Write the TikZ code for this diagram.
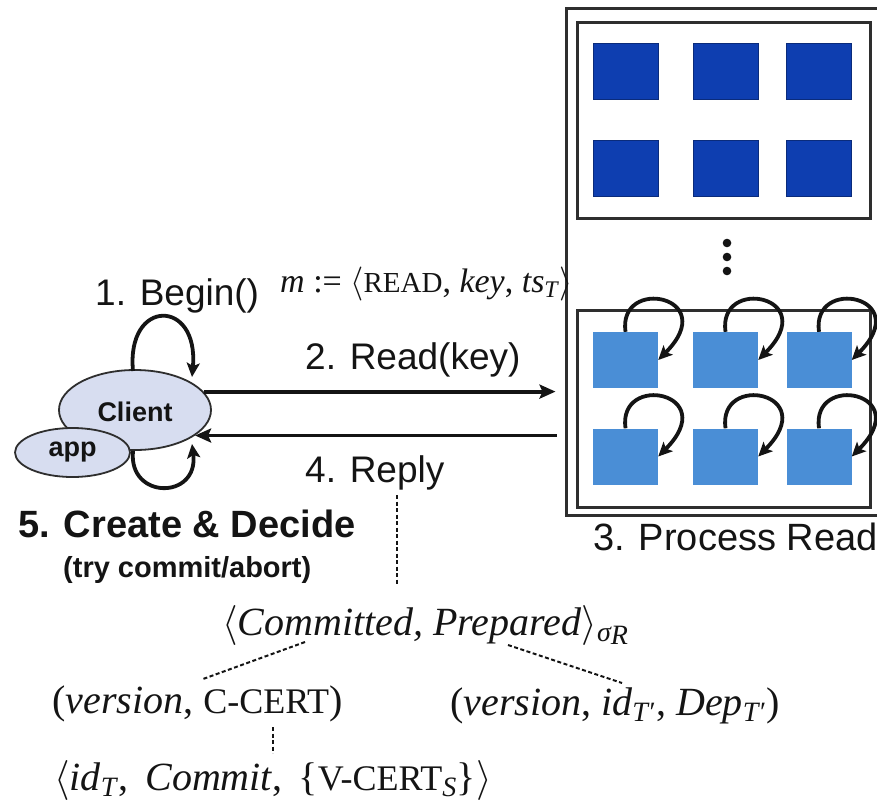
\documentclass[tikz,border=0pt]{standalone}
\usepackage{fix-cm}
\usepackage{fontspec}
\setmainfont{Liberation Serif}
\newfontfamily\arial{Liberation Sans}
\usetikzlibrary{arrows.meta,shapes.geometric}

\definecolor{ink}{HTML}{141414}
\definecolor{frame}{HTML}{2E2E2E}
\definecolor{shard}{HTML}{0E3EB0}
\definecolor{replica}{HTML}{4A8ED6}
\definecolor{bubble}{HTML}{D7DDF0}

\newcommand{\fsz}[1]{\fontsize{#1}{#1}\selectfont}
% fake small capitals at two sizes
\newcommand{\scS}[1]{{\fsz{29}#1}}
\newcommand{\scL}[1]{{\fsz{36}#1}}

\begin{document}
\begin{tikzpicture}[x=1pt,y=-1pt,
  lbl/.style={inner sep=0pt, text=ink, font=\arial\fsz{37}},
  formula/.style={inner sep=0pt, text=ink, font=\fsz{40}},
  bubblenode/.style={ellipse, draw=frame, fill=bubble, line width=1.8pt, inner sep=0pt, text=ink},
  boxframe/.style={rectangle, draw=frame, line width=3pt, inner sep=0pt},
  darksq/.style={rectangle, fill=shard, draw=shard!70!black, line width=0.8pt, minimum width=65pt, minimum height=56pt, inner sep=0pt},
  lightsq/.style={rectangle, fill=replica, minimum width=65pt, minimum height=56pt, inner sep=0pt},
  flow/.style={draw=ink, line width=3.8pt, -{Stealth[length=16pt,width=14pt,inset=3pt]}},
  selfloop/.style={draw=ink, line width=3.8pt, -{Stealth[length=14pt,width=13pt,inset=3pt]}},
  tie/.style={draw=ink, line width=2pt, dash pattern=on 4pt off 2.5pt},
]
\useasboundingbox (0,0) rectangle (877,803);
\fill[white] (0,0) rectangle (877,803);

% ---------- server side ----------
\node[boxframe, minimum width=324pt, minimum height=507pt] (cluster) at (728,261.5) {};
\node[boxframe, minimum width=293pt, minimum height=196pt] (upper) at (723.5,120) {};
\node[boxframe, minimum width=293pt, minimum height=197pt] (lower) at (723.5,408.5) {};

\foreach \c/\x in {1/625.5,2/725.5,3/819}{
  \node[darksq] (d1\c) at (\x,71) {};
  \node[darksq] (d2\c) at (\x,168.5) {};
  \node[lightsq] (r1\c) at (\x,360) {};
  \node[lightsq] (r2\c) at (\x,456.5) {};
  \draw[selfloop] (r1\c.north) .. controls +(-8,-56) and +(64,-64) .. (r1\c.east);
  \draw[selfloop] (r2\c.north) .. controls +(-8,-56) and +(64,-64) .. (r2\c.east);
}

\foreach \y in {243,257,271}
  \fill[ink] (727,\y) circle (4.3pt);

\node[lbl, anchor=base west, font=\arial\fsz{38}] (process) at (593,550) {3. Process Read};

% ---------- client side ----------
\node[bubblenode, minimum width=152pt, minimum height=80pt] (client) at (135,410) {};
\node[font=\arial\bfseries\fsz{27}, text=ink, inner sep=0pt] (clienttxt) at (135,412) {Client};
\node[bubblenode, minimum width=115pt, minimum height=49pt] (app) at (72.5,452.5) {\arial\bfseries\fsz{27}app};

\coordinate (topA) at (133,371);
\coordinate (topB) at (192,377);
\coordinate (botA) at (133,451);
\coordinate (botB) at (192,444);
\draw[selfloop] (topA) .. controls (126,298) and (199,298) .. (topB);
\draw[selfloop] (botA) .. controls (128,500) and (199,500) .. (botB);

\node[lbl, anchor=base west] (begin) at (95,305) {1. Begin()};

% ---------- messages ----------
\draw[flow, shorten >=9pt] (client.15) -- (client.15 -| cluster.west);
\draw[flow, shorten <=8pt] (client.-23 -| cluster.west) -- (client.-23);

\node[lbl, anchor=base west] (read) at (305,369) {2. Read(key)};
\node[lbl, anchor=base west] (reply) at (305,482) {4. Reply};
\node[formula, anchor=base west, font=\fsz{34}] (msg) at (280,292)
  {\textit{m} := $\langle$\scS{READ}, \textit{key}, \textit{ts}\textsubscript{\textit{T}}$\rangle$};

\node[lbl, anchor=base west, font=\arial\bfseries\fsz{38}] (decide) at (18,537) {5. Create \& Decide};
\node[lbl, anchor=base west, font=\arial\bfseries\fsz{29}] (trycommit) at (63,577) {(try commit/abort)};

% ---------- reply contents ----------
\node[formula, anchor=base west] (signed) at (222,635)
  {$\langle$\textit{Committed, Prepared}$\rangle$\textsubscript{\textit{σ\raisebox{-0.25ex}{R}}}};
\node[formula, anchor=base west] (committed) at (52,713)
  {(\textit{version}, \scL{C-CERT})};
\node[formula, anchor=base west] (prepared) at (450,715)
  {(\textit{version}, \textit{id}\textsubscript{\textit{T}′}, \textit{Dep}\textsubscript{\textit{T}′})};
\node[formula, anchor=base west] (decision) at (54,790)
  {$\langle$\textit{id}\textsubscript{\textit{T}}, \,\textit{Commit}, \,\{\scL{V-CERT}\textsubscript{\textit{S}}\}$\rangle$};

\coordinate (rv1) at (397,495);
\coordinate (rv2) at (397,585);
\coordinate (cl1) at (305,642);
\coordinate (cl2) at (203,679);
\coordinate (pr1) at (508,645);
\coordinate (pr2) at (622,683);
\coordinate (cv1) at (273,727);
\coordinate (cv2) at (273,753);
\draw[tie] (rv1) -- (rv2);
\draw[tie] (cl1) -- (cl2);
\draw[tie] (pr1) -- (pr2);
\draw[tie] (cv1) -- (cv2);
\end{tikzpicture}
\end{document}
